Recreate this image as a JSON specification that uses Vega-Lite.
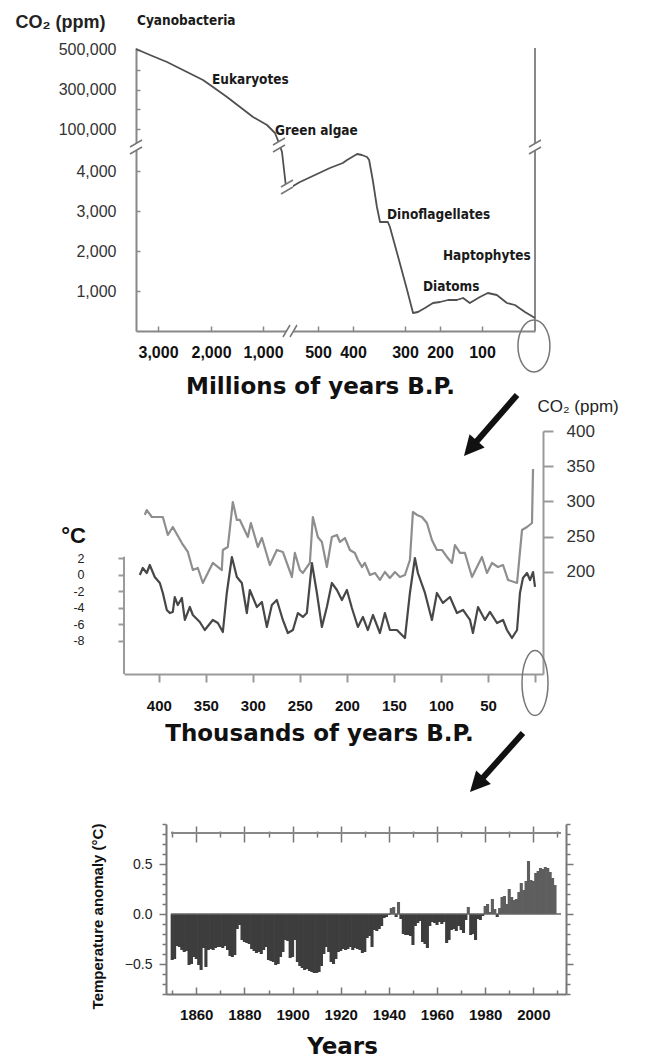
{
"$schema": "https://vega.github.io/schema/vega-lite/v6.json",
"padding": {"left": 15, "top": 13, "right": 0, "bottom": 0},
"background": "white",
"bounds": "flush",
"spacing": 100,
"config": {"view": {"stroke": null}, "axis": {"grid": false, "labelFont": "Liberation Sans", "titleFont": "Liberation Sans", "labelOverlap": false, "labelFlush": false, "labelBound": false}, "text": {"font": "Liberation Sans"}},
"datasets": {
"p1frame": [{"mya": 0, "ppm": 0}],
"curve1": [{"mya":3400,"ppm":504900},{"mya":3145,"ppm":474600},{"mya":2830,"ppm":439300},{"mya":2453,"ppm":388700},{"mya":2151,"ppm":348300},{"mya":1962,"ppm":312900},{"mya":1692,"ppm":262400},{"mya":1442,"ppm":211900},{"mya":1192,"ppm":161400},{"mya":963,"ppm":120900},{"mya":889,"ppm":80500},{"mya":852,"ppm":30000},{"mya":824,"ppm":4475},{"mya":787,"ppm":3600},{"mya":768,"ppm":3550},{"mya":661,"ppm":3725},{"mya":527,"ppm":3900},{"mya":466,"ppm":4075},{"mya":429,"ppm":4200},{"mya":417,"ppm":4275},{"mya":392,"ppm":4425},{"mya":383,"ppm":4400},{"mya":373,"ppm":4350},{"mya":369,"ppm":4275},{"mya":362,"ppm":3775},{"mya":354,"ppm":3100},{"mya":348,"ppm":2725},{"mya":333,"ppm":2725},{"mya":329,"ppm":2600},{"mya":310,"ppm":1700},{"mya":294,"ppm":1025},{"mya":277,"ppm":450},{"mya":263,"ppm":475},{"mya":243,"ppm":575},{"mya":220,"ppm":700},{"mya":200,"ppm":725},{"mya":181,"ppm":775},{"mya":160,"ppm":775},{"mya":145,"ppm":825},{"mya":129,"ppm":700},{"mya":105,"ppm":850},{"mya":89,"ppm":950},{"mya":72,"ppm":900},{"mya":53,"ppm":700},{"mya":38,"ppm":650},{"mya":19,"ppm":475},{"mya":0,"ppm":325}],
"breaksV": [{"mya":3400,"ppm":17250},{"mya":0,"ppm":17250},{"mya":852,"ppm":23625},{"mya":778,"ppm":3600}],
"breaksH": [{"mya":750,"ppm":0}],
"ell1": [{"mya":2,"ppm":-375}],
"species": [{"label":"Cyanobacteria","mya":3382,"ppm":646000},{"label":"Eukaryotes","mya":1981,"ppm":348300},{"label":"Green algae","mya":889,"ppm":90600},{"label":"Dinoflagellates","mya":334.6,"ppm":2900},{"label":"Haptophytes","mya":193,"ppm":1875},{"label":"Diatoms","mya":248.6,"ppm":1100}],
"co2": [{"kyr":414.9,"co2":280.9},{"kyr":412.8,"co2":287.9},{"kyr":407.4,"co2":278.0},{"kyr":395.7,"co2":278.0},{"kyr":390.4,"co2":252.5},{"kyr":385.1,"co2":263.8},{"kyr":375.5,"co2":241.1},{"kyr":369.1,"co2":228.4},{"kyr":363.8,"co2":202.8},{"kyr":358.5,"co2":205.7},{"kyr":353.2,"co2":184.4},{"kyr":342.6,"co2":212.8},{"kyr":333.0,"co2":202.8},{"kyr":331.9,"co2":231.2},{"kyr":326.6,"co2":235.5},{"kyr":321.3,"co2":299.3},{"kyr":317.0,"co2":273.8},{"kyr":313.8,"co2":273.8},{"kyr":305.3,"co2":249.6},{"kyr":302.1,"co2":269.5},{"kyr":294.7,"co2":235.5},{"kyr":290.4,"co2":248.2},{"kyr":281.9,"co2":209.9},{"kyr":274.5,"co2":231.2},{"kyr":268.1,"co2":228.4},{"kyr":258.5,"co2":192.9},{"kyr":255.3,"co2":227.0},{"kyr":250.0,"co2":202.8},{"kyr":246.8,"co2":198.6},{"kyr":239.4,"co2":212.8},{"kyr":236.2,"co2":278.0},{"kyr":230.9,"co2":249.6},{"kyr":226.6,"co2":242.6},{"kyr":221.3,"co2":207.1},{"kyr":216.0,"co2":249.6},{"kyr":210.6,"co2":252.5},{"kyr":207.4,"co2":242.6},{"kyr":202.1,"co2":248.2},{"kyr":196.8,"co2":231.2},{"kyr":191.5,"co2":227.0},{"kyr":188.3,"co2":217.0},{"kyr":184.0,"co2":207.1},{"kyr":180.9,"co2":212.8},{"kyr":175.5,"co2":195.7},{"kyr":170.2,"co2":198.6},{"kyr":164.9,"co2":188.7},{"kyr":159.6,"co2":200.0},{"kyr":154.3,"co2":191.5},{"kyr":148.9,"co2":200.0},{"kyr":143.6,"co2":192.9},{"kyr":138.3,"co2":195.7},{"kyr":133.0,"co2":217.0},{"kyr":129.8,"co2":285.1},{"kyr":125.5,"co2":280.9},{"kyr":120.2,"co2":278.0},{"kyr":114.9,"co2":269.5},{"kyr":109.6,"co2":245.4},{"kyr":104.3,"co2":231.2},{"kyr":98.9,"co2":231.2},{"kyr":93.6,"co2":221.3},{"kyr":88.3,"co2":212.8},{"kyr":85.1,"co2":238.3},{"kyr":79.8,"co2":227.0},{"kyr":74.5,"co2":227.0},{"kyr":67.0,"co2":192.9},{"kyr":61.7,"co2":207.1},{"kyr":56.4,"co2":221.3},{"kyr":51.1,"co2":198.6},{"kyr":45.7,"co2":212.8},{"kyr":39.4,"co2":207.1},{"kyr":34.0,"co2":209.9},{"kyr":28.7,"co2":188.7},{"kyr":19.1,"co2":184.4},{"kyr":13.8,"co2":259.6},{"kyr":8.5,"co2":263.8},{"kyr":3.2,"co2":269.5},{"kyr":2.1,"co2":346.1}],
"temp": [{"kyr":420.2,"t":0.0},{"kyr":417.0,"t":0.85},{"kyr":412.8,"t":0.24},{"kyr":409.6,"t":1.21},{"kyr":404.3,"t":-0.24},{"kyr":398.9,"t":-0.97},{"kyr":395.7,"t":-2.18},{"kyr":391.5,"t":-4.24},{"kyr":388.3,"t":-4.61},{"kyr":385.1,"t":-4.48},{"kyr":383.0,"t":-2.67},{"kyr":379.8,"t":-3.64},{"kyr":375.5,"t":-2.79},{"kyr":372.3,"t":-5.45},{"kyr":367.0,"t":-3.88},{"kyr":363.8,"t":-4.85},{"kyr":356.4,"t":-5.70},{"kyr":351.1,"t":-6.67},{"kyr":342.6,"t":-5.45},{"kyr":337.2,"t":-5.82},{"kyr":331.9,"t":-6.91},{"kyr":327.7,"t":-2.18},{"kyr":322.3,"t":2.18},{"kyr":317.0,"t":-0.24},{"kyr":311.7,"t":-0.97},{"kyr":306.4,"t":-4.61},{"kyr":303.2,"t":-1.82},{"kyr":295.7,"t":-3.88},{"kyr":290.4,"t":-3.27},{"kyr":285.1,"t":-6.30},{"kyr":279.8,"t":-3.64},{"kyr":274.5,"t":-3.03},{"kyr":268.1,"t":-5.45},{"kyr":262.8,"t":-7.03},{"kyr":257.4,"t":-6.67},{"kyr":252.1,"t":-4.61},{"kyr":246.8,"t":-5.09},{"kyr":242.6,"t":-4.61},{"kyr":237.2,"t":1.45},{"kyr":231.9,"t":-2.18},{"kyr":226.6,"t":-6.30},{"kyr":221.3,"t":-3.88},{"kyr":216.0,"t":-0.97},{"kyr":210.6,"t":-1.82},{"kyr":205.3,"t":-3.03},{"kyr":200.0,"t":-1.82},{"kyr":194.7,"t":-4.00},{"kyr":188.3,"t":-6.30},{"kyr":183.0,"t":-5.09},{"kyr":177.7,"t":-6.67},{"kyr":172.3,"t":-4.85},{"kyr":164.9,"t":-7.03},{"kyr":159.6,"t":-4.61},{"kyr":154.3,"t":-6.67},{"kyr":146.8,"t":-6.67},{"kyr":138.3,"t":-7.64},{"kyr":133.0,"t":-2.18},{"kyr":127.7,"t":2.06},{"kyr":124.5,"t":0.24},{"kyr":117.0,"t":-2.18},{"kyr":109.6,"t":-5.45},{"kyr":104.3,"t":-2.18},{"kyr":97.9,"t":-3.39},{"kyr":90.4,"t":-2.67},{"kyr":83.0,"t":-4.61},{"kyr":76.6,"t":-4.24},{"kyr":69.1,"t":-5.45},{"kyr":66.0,"t":-7.03},{"kyr":60.6,"t":-3.88},{"kyr":53.2,"t":-5.45},{"kyr":47.9,"t":-4.48},{"kyr":40.4,"t":-5.82},{"kyr":34.0,"t":-5.45},{"kyr":29.8,"t":-6.67},{"kyr":24.5,"t":-7.64},{"kyr":19.1,"t":-6.67},{"kyr":16.0,"t":-2.18},{"kyr":12.8,"t":-0.36},{"kyr":8.5,"t":0.24},{"kyr":5.3,"t":-0.61},{"kyr":2.1,"t":0.36},{"kyr":0.0,"t":-1.45}],
"p2axis": [{"kyr":437,"t":2.2}],
"ell2": [{"kyr":0,"co2":42.55}],
"arrow1": [{"kyr":19.1,"co2":451.1,"kyr2":66.8,"co2b":377.9}],
"arrow1head": [{"kyr":66.8,"co2":377.9}],
"hadcrut": [{"year":1850,"anom":-0.46},{"year":1851,"anom":-0.45},{"year":1852,"anom":-0.32},{"year":1853,"anom":-0.33},{"year":1854,"anom":-0.36},{"year":1855,"anom":-0.38},{"year":1856,"anom":-0.37},{"year":1857,"anom":-0.51},{"year":1858,"anom":-0.5},{"year":1859,"anom":-0.43},{"year":1860,"anom":-0.45},{"year":1861,"anom":-0.51},{"year":1862,"anom":-0.56},{"year":1863,"anom":-0.34},{"year":1864,"anom":-0.53},{"year":1865,"anom":-0.36},{"year":1866,"anom":-0.35},{"year":1867,"anom":-0.36},{"year":1868,"anom":-0.34},{"year":1869,"anom":-0.33},{"year":1870,"anom":-0.33},{"year":1871,"anom":-0.34},{"year":1872,"anom":-0.32},{"year":1873,"anom":-0.36},{"year":1874,"anom":-0.42},{"year":1875,"anom":-0.43},{"year":1876,"anom":-0.41},{"year":1877,"anom":-0.15},{"year":1878,"anom":-0.11},{"year":1879,"anom":-0.26},{"year":1880,"anom":-0.28},{"year":1881,"anom":-0.29},{"year":1882,"anom":-0.3},{"year":1883,"anom":-0.35},{"year":1884,"anom":-0.37},{"year":1885,"anom":-0.39},{"year":1886,"anom":-0.38},{"year":1887,"anom":-0.4},{"year":1888,"anom":-0.36},{"year":1889,"anom":-0.33},{"year":1890,"anom":-0.46},{"year":1891,"anom":-0.47},{"year":1892,"anom":-0.48},{"year":1893,"anom":-0.51},{"year":1894,"anom":-0.5},{"year":1895,"anom":-0.43},{"year":1896,"anom":-0.38},{"year":1897,"anom":-0.26},{"year":1898,"anom":-0.27},{"year":1899,"anom":-0.44},{"year":1900,"anom":-0.43},{"year":1901,"anom":-0.26},{"year":1902,"anom":-0.48},{"year":1903,"anom":-0.52},{"year":1904,"anom":-0.54},{"year":1905,"anom":-0.56},{"year":1906,"anom":-0.55},{"year":1907,"anom":-0.57},{"year":1908,"anom":-0.58},{"year":1909,"anom":-0.59},{"year":1910,"anom":-0.59},{"year":1911,"anom":-0.58},{"year":1912,"anom":-0.52},{"year":1913,"anom":-0.4},{"year":1914,"anom":-0.33},{"year":1915,"anom":-0.38},{"year":1916,"anom":-0.48},{"year":1917,"anom":-0.5},{"year":1918,"anom":-0.45},{"year":1919,"anom":-0.38},{"year":1920,"anom":-0.37},{"year":1921,"anom":-0.35},{"year":1922,"anom":-0.36},{"year":1923,"anom":-0.35},{"year":1924,"anom":-0.33},{"year":1925,"anom":-0.36},{"year":1926,"anom":-0.34},{"year":1927,"anom":-0.35},{"year":1928,"anom":-0.36},{"year":1929,"anom":-0.39},{"year":1930,"anom":-0.38},{"year":1931,"anom":-0.24},{"year":1932,"anom":-0.22},{"year":1933,"anom":-0.33},{"year":1934,"anom":-0.16},{"year":1935,"anom":-0.17},{"year":1936,"anom":-0.15},{"year":1937,"anom":-0.12},{"year":1938,"anom":-0.04},{"year":1939,"anom":-0.03},{"year":1940,"anom":-0.01},{"year":1941,"anom":0.06},{"year":1942,"anom":0.07},{"year":1943,"anom":-0.03},{"year":1944,"anom":0.12},{"year":1945,"anom":-0.05},{"year":1946,"anom":-0.2},{"year":1947,"anom":-0.21},{"year":1948,"anom":-0.21},{"year":1949,"anom":-0.22},{"year":1950,"anom":-0.31},{"year":1951,"anom":-0.12},{"year":1952,"anom":-0.09},{"year":1953,"anom":-0.07},{"year":1954,"anom":-0.28},{"year":1955,"anom":-0.3},{"year":1956,"anom":-0.34},{"year":1957,"anom":-0.12},{"year":1958,"anom":-0.08},{"year":1959,"anom":-0.09},{"year":1960,"anom":-0.11},{"year":1961,"anom":-0.08},{"year":1962,"anom":-0.1},{"year":1963,"anom":-0.08},{"year":1964,"anom":-0.29},{"year":1965,"anom":-0.26},{"year":1966,"anom":-0.16},{"year":1967,"anom":-0.15},{"year":1968,"anom":-0.17},{"year":1969,"anom":-0.12},{"year":1970,"anom":-0.16},{"year":1971,"anom":-0.19},{"year":1972,"anom":-0.06},{"year":1973,"anom":0.07},{"year":1974,"anom":-0.21},{"year":1975,"anom":-0.2},{"year":1976,"anom":-0.26},{"year":1977,"anom":-0.05},{"year":1978,"anom":-0.06},{"year":1979,"anom":-0.02},{"year":1980,"anom":0.08},{"year":1981,"anom":0.1},{"year":1982,"anom":0.02},{"year":1983,"anom":0.15},{"year":1984,"anom":0.05},{"year":1985,"anom":-0.03},{"year":1986,"anom":0.06},{"year":1987,"anom":0.17},{"year":1988,"anom":0.18},{"year":1989,"anom":0.1},{"year":1990,"anom":0.25},{"year":1991,"anom":0.17},{"year":1992,"anom":0.14},{"year":1993,"anom":0.15},{"year":1994,"anom":0.22},{"year":1995,"anom":0.31},{"year":1996,"anom":0.24},{"year":1997,"anom":0.33},{"year":1998,"anom":0.53},{"year":1999,"anom":0.34},{"year":2000,"anom":0.33},{"year":2001,"anom":0.41},{"year":2002,"anom":0.43},{"year":2003,"anom":0.46},{"year":2004,"anom":0.45},{"year":2005,"anom":0.47},{"year":2006,"anom":0.46},{"year":2007,"anom":0.42},{"year":2008,"anom":0.36},{"year":2009,"anom":0.29}],
"zero3": [{"year":1849.5,"year2":2011.5,"anom":0}],
"top3": [{"year":1849.5,"year2":2011.5,"anom":0.81}],
"arrow2": [{"year":1995.7,"anom":1.81,"year2":1977.2,"anom2":1.312}],
"arrow2head": [{"year":1977.2,"anom":1.312}]
},
"vconcat": [
{
"width": 442, "height": 283,
"encoding": {
"x": {"field": "mya", "type": "quantitative",
 "scale": {"domain": [3400,3000,2000,1000,750,500,400,300,200,100,0], "range": [12,34,87,139,166,194,229,281,316,358,411], "nice": false, "zero": false},
 "axis": {"values": [3000,2000,1000,500,400,300,200,100], "labelExpr": "format(datum.value, ',')", "labelFontWeight": "bold", "labelFontSize": 16, "labelColor": "#111", "tickSize": -5, "tickWidth": 1.5, "tickColor": "#888", "domainColor": "#888", "domainWidth": 2, "labelPadding": 18, "title": "Millions of years B.P.", "titleFont": "DejaVu Sans", "titleFontWeight": "bold", "titleFontSize": 23, "titleColor": "#111", "titleX": 196, "titleY": 62, "titleBaseline": "alphabetic", "titleAlign": "center"}},
"y": {"field": "ppm", "type": "quantitative",
 "scale": {"domain": [0,4500,30000,510000], "range": [283,103,95,0], "nice": false, "zero": false},
 "axis": {"orient": "left", "offset": -12, "values": [500000,400000,300000,200000,100000,4000,3000,2000,1000], "labelExpr": "datum.value == 400000 || datum.value == 200000 ? '' : format(datum.value, ',')", "tickSize": -4, "tickWidth": 1.5, "tickColor": "#888", "domainColor": "#888", "domainWidth": 2, "labelPadding": 24, "labelFontSize": 16, "labelColor": "#333", "title": "CO₂ (ppm)", "titleAngle": 0, "titleAlign": "left", "titleBaseline": "middle", "titleX": -121, "titleY": -26, "titleFontSize": 18, "titleFontWeight": "bold", "titleColor": "#222"}}
},
"layer": [
{"data": {"name": "p1frame"}, "mark": {"type": "rule", "color": "#888", "strokeWidth": 2}, "encoding": {"y2": {"datum": 510000}}},
{"data": {"name": "curve1"}, "mark": {"type": "line", "color": "#505050", "strokeWidth": 1.8, "strokeJoin": "round"}},
{"data": {"name": "breaksV"}, "mark": {"type": "point", "shape": "M -0.6 0 L 0.6 -0.7 L 0.6 0 L -0.6 0.7 Z", "filled": true, "color": "white", "strokeWidth": 0, "size": 400, "opacity": 1}},
{"data": {"name": "breaksV"}, "mark": {"type": "point", "shape": "M -0.6 0 L 0.6 -0.7 M -0.6 0.7 L 0.6 0", "filled": false, "color": "#777", "strokeWidth": 1.5, "size": 400, "opacity": 1}},
{"data": {"name": "breaksH"}, "mark": {"type": "point", "shape": "M -0.7 0.6 L 0 -0.6 L 0.7 -0.6 L 0 0.6 Z", "filled": true, "color": "white", "strokeWidth": 0, "size": 400, "opacity": 1}},
{"data": {"name": "breaksH"}, "mark": {"type": "point", "shape": "M -0.7 0.6 L 0 -0.6 M 0 0.6 L 0.7 -0.6", "filled": false, "color": "#777", "strokeWidth": 1.5, "size": 400, "opacity": 1}},
{"data": {"name": "ell1"}, "mark": {"type": "point", "shape": "M -0.615 0 A 0.615 1 0 1 1 0.615 0 A 0.615 1 0 1 1 -0.615 0 Z", "filled": false, "color": "#777", "strokeWidth": 1.5, "size": 2704, "opacity": 1}},
{"data": {"name": "species"}, "mark": {"type": "text", "align": "left", "baseline": "middle", "font": "DejaVu Sans Condensed, Liberation Sans Narrow, Liberation Sans, sans-serif", "fontWeight": "bold", "fontSize": 13.5, "color": "#1a1a1a"}, "encoding": {"text": {"field": "label"}}}
]
},
{
"width": 442, "height": 243,
"layer": [
{"encoding": {
 "x": {"field": "kyr", "type": "quantitative", "scale": {"domain": [437, -8.5], "range": [0, 419], "nice": false, "zero": false},
  "axis": {"values": [400,350,300,250,200,150,100,50,0], "labelExpr": "datum.value == 0 ? '' : format(datum.value, 'd')", "tickSize": 8, "tickWidth": 2, "tickColor": "#9a9a9a", "domainColor": "#9a9a9a", "domainWidth": 2, "labelPadding": 16, "labelFontWeight": "bold", "labelFontSize": 15, "labelColor": "#111", "title": "Thousands of years B.P.", "titleFont": "DejaVu Sans", "titleFontWeight": "bold", "titleFontSize": 23, "titleColor": "#111", "titleX": 195, "titleY": 66, "titleBaseline": "alphabetic", "titleAlign": "center"}},
 "y": {"field": "co2", "type": "quantitative", "scale": {"domain": [55.3, 400], "nice": false, "zero": false},
  "axis": {"orient": "right", "offset": -23, "values": [400,350,300,250,200], "tickSize": 10, "tickWidth": 2, "tickColor": "#9a9a9a", "domainColor": "#9a9a9a", "domainWidth": 2, "labelPadding": 13, "labelFontSize": 17, "labelColor": "#333", "title": "CO₂ (ppm)", "titleAngle": 0, "titleAlign": "left", "titleBaseline": "middle", "titleX": -6, "titleY": -25, "titleFontSize": 17, "titleFontWeight": "normal", "titleColor": "#222"}}
 },
 "layer": [
 {"data": {"name": "co2"}, "mark": {"type": "line", "color": "#8e8e8e", "strokeWidth": 2.2, "strokeJoin": "round"}},
 {"data": {"name": "ell2"}, "mark": {"type": "point", "shape": "M -0.4 0 A 0.4 1 0 1 1 0.4 0 A 0.4 1 0 1 1 -0.4 0 Z", "filled": false, "color": "#777", "strokeWidth": 1.5, "size": 4225, "opacity": 1}},
 {"data": {"name": "arrow1"}, "mark": {"type": "rule", "color": "#111", "strokeWidth": 6}, "encoding": {"x2": {"field": "kyr2"}, "y2": {"field": "co2b"}}},
 {"data": {"name": "arrow1head"}, "mark": {"type": "point", "shape": "M 0 -1 L 0.8 0.6 L -0.8 0.6 Z", "filled": true, "color": "#111", "size": 625, "angle": 221, "opacity": 1}}
 ]
},
{"encoding": {
 "x": {"field": "kyr", "type": "quantitative", "scale": {"domain": [437, -8.5], "range": [0, 419], "nice": false, "zero": false}},
 "y": {"field": "t", "type": "quantitative", "scale": {"domain": [-12, 17.45], "nice": false, "zero": false},
  "axis": {"orient": "left", "values": [2,0,-2,-4,-6,-8], "labelExpr": "'' + datum.value", "domain": false, "tickSize": 6, "tickWidth": 2, "tickColor": "#9a9a9a", "labelPadding": 34, "labelFontSize": 12.5, "labelColor": "#222", "title": "°C", "titleAngle": 0, "titleAlign": "center", "titleBaseline": "middle", "titleX": -51, "titleY": 104, "titleFontSize": 22, "titleFontWeight": "bold", "titleColor": "#111"}}
 },
 "layer": [
 {"data": {"name": "temp"}, "mark": {"type": "line", "color": "#474747", "strokeWidth": 2.2, "strokeJoin": "round"}},
 {"data": {"name": "p2axis"}, "mark": {"type": "rule", "color": "#9a9a9a", "strokeWidth": 2}, "encoding": {"y2": {"datum": -12}}}
 ]
}
],
"resolve": {"scale": {"y": "independent"}}
},
{
"width": 442, "height": 220,
"layer": [
{"data": {"name": "hadcrut"}, "mark": {"type": "bar", "width": 3.1},
 "encoding": {
 "x": {"field": "year", "type": "quantitative", "scale": {"domain": [1849.5, 2011.5], "range": [42, 442], "nice": false, "zero": false},
  "axis": {"orient": "bottom", "values": [1850,1860,1870,1880,1890,1900,1910,1920,1930,1940,1950,1960,1970,1980,1990,2000,2010], "labelExpr": "datum.value % 20 == 0 ? format(datum.value, 'd') : ''", "tickSize": {"condition": {"test": "datum.value % 20 == 0", "value": -7}, "value": -4}, "tickWidth": 1.5, "tickColor": "#777", "domainColor": "#777", "domainWidth": 2, "labelPadding": 20, "labelFontWeight": "bold", "labelFontSize": 15, "labelColor": "#111", "title": "Years", "titleFont": "DejaVu Sans", "titleFontWeight": "bold", "titleFontSize": 23, "titleColor": "#111", "titleX": 218, "titleY": 59, "titleBaseline": "alphabetic", "titleAlign": "center"}},
 "y": {"field": "anom", "type": "quantitative", "scale": {"domain": [-0.8, 0.9], "range": [220, 50], "nice": false, "zero": false},
  "axis": {"orient": "left", "offset": -42, "values": [-0.8,-0.7,-0.6,-0.5,-0.4,-0.3,-0.2,-0.1,0,0.1,0.2,0.3,0.4,0.5,0.6,0.7,0.8,0.9], "labelExpr": "abs(datum.value*2 - round(datum.value*2)) < 0.01 ? format(datum.value, '.1f') : ''", "tickSize": {"condition": {"test": "abs(datum.value*2 - round(datum.value*2)) < 0.01", "value": 7}, "value": 4}, "tickWidth": 1.5, "tickColor": "#777", "domainColor": "#777", "domainWidth": 2, "labelPadding": 7, "labelFontSize": 14, "labelColor": "#222", "title": "Temperature anomaly (°C)", "titleFontWeight": "bold", "titleFontSize": 15, "titleColor": "#111", "titleX": -69, "titleY": 142, "titleAlign": "center", "titleBaseline": "middle"}},
 "y2": {"datum": 0},
 "color": {"condition": {"test": "datum.anom > 0", "value": "#5e5e5e"}, "value": "#3d3d3d"}
 }
},
{"data": {"name": "zero3"}, "mark": {"type": "rule", "color": "#666", "strokeWidth": 1.5},
 "encoding": {
 "x": {"field": "year", "type": "quantitative", "scale": {"domain": [1849.5, 2011.5], "range": [42, 442], "nice": false, "zero": false}, "axis": null},
 "x2": {"field": "year2"},
 "y": {"field": "anom", "type": "quantitative", "scale": {"domain": [-0.8, 0.9], "range": [220, 50], "nice": false, "zero": false}, "axis": null}
 }
},
{"data": {"name": "top3"}, "mark": {"type": "rule", "color": "#888", "strokeWidth": 2},
 "encoding": {
 "x": {"field": "year", "type": "quantitative", "scale": {"domain": [1849.5, 2011.5], "range": [42, 442], "nice": false, "zero": false},
  "axis": {"orient": "top", "offset": -68, "values": [1850,1860,1870,1880,1890,1900,1910,1920,1930,1940,1950,1960,1970,1980,1990,2000,2010], "domain": false, "labels": false, "tickSize": {"condition": {"test": "datum.value % 20 == 0", "value": 16}, "value": 11}, "tickDash": {"condition": {"test": "datum.value % 20 == 0", "value": [100, 0]}, "value": [0, 5, 6, 10]}, "tickColor": "#777", "tickWidth": 1.5, "title": null}},
 "x2": {"field": "year2"},
 "y": {"field": "anom", "type": "quantitative", "scale": {"domain": [-0.8, 0.9], "range": [220, 50], "nice": false, "zero": false},
  "axis": {"orient": "right", "values": [-0.8,-0.7,-0.6,-0.5,-0.4,-0.3,-0.2,-0.1,0,0.1,0.2,0.3,0.4,0.5,0.6,0.7,0.8,0.9], "labels": false, "tickSize": {"condition": {"test": "abs(datum.value*2 - round(datum.value*2)) < 0.01", "value": 7}, "value": 4}, "tickWidth": 1.5, "tickColor": "#777", "domainColor": "#777", "domainWidth": 2, "title": null}}
 }
},
{"data": {"name": "arrow2"}, "mark": {"type": "rule", "color": "#111", "strokeWidth": 6},
 "encoding": {
 "x": {"field": "year", "type": "quantitative", "scale": {"domain": [1849.5, 2011.5], "range": [42, 442], "nice": false, "zero": false}, "axis": null},
 "x2": {"field": "year2"},
 "y": {"field": "anom", "type": "quantitative", "scale": {"domain": [-0.8, 0.9], "range": [220, 50], "nice": false, "zero": false}, "axis": null},
 "y2": {"field": "anom2"}
 }
},
{"data": {"name": "arrow2head"}, "mark": {"type": "point", "shape": "M 0 -1 L 0.8 0.6 L -0.8 0.6 Z", "filled": true, "color": "#111", "size": 625, "angle": 222.5, "opacity": 1},
 "encoding": {
 "x": {"field": "year", "type": "quantitative", "scale": {"domain": [1849.5, 2011.5], "range": [42, 442], "nice": false, "zero": false}, "axis": null},
 "y": {"field": "anom", "type": "quantitative", "scale": {"domain": [-0.8, 0.9], "range": [220, 50], "nice": false, "zero": false}, "axis": null}
 }
}
],
"resolve": {"axis": {"x": "independent", "y": "independent"}}
}
]
}
